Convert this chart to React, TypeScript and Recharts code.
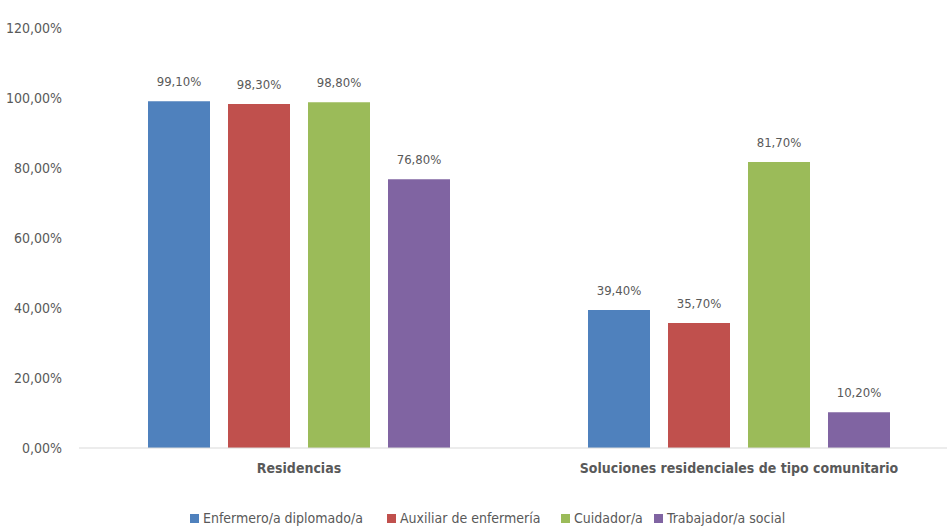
import React from 'react';
import { BarChart, Bar, XAxis, YAxis, LabelList, Legend } from 'recharts';

const categories = ['Residencias', 'Soluciones residenciales de tipo comunitario'];
const seriesNames = ['Enfermero/a diplomado/a', 'Auxiliar de enfermería', 'Cuidador/a', 'Trabajador/a social'];
const enfermero = [99.1, 39.4];
const auxiliar = [98.3, 35.7];
const cuidador = [98.8, 81.7];
const trabajador = [76.8, 10.2];
const yTicks = [0, 20, 40, 60, 80, 100, 120];
const colors = ['#4F81BD', '#C0504D', '#9BBB59', '#8064A2'];
const seriesValues = [enfermero, auxiliar, cuidador, trabajador];
const legendItemWidths = [197, 174, 93, 160];

const data = categories.map((c, i) => {
  const row: any = { name: c };
  seriesNames.forEach((s, j) => { row['s' + j] = seriesValues[j][i]; });
  return row;
});

const FONT = '"DejaVu Sans Condensed", "Liberation Sans Narrow", sans-serif';
const fmt = (v: number) => v.toFixed(2).replace('.', ',') + '%';

const LegendContent = () => (
  <div style={{ display: 'flex', fontFamily: FONT, fontSize: 14, color: '#595959', lineHeight: '16px', height: 16 }}>
    {seriesNames.map((s, i) => (
      <div key={s} style={{ display: 'flex', alignItems: 'center', width: legendItemWidths[i], whiteSpace: 'nowrap' }}>
        <span style={{ width: 9, height: 9, background: colors[i], display: 'inline-block', marginRight: 4 }} />
        <span>{s}</span>
      </div>
    ))}
  </div>
);

export default function App() {
  return (
    <div style={{ position: 'fixed', left: 0, top: 0, width: 947, height: 527, overflow: 'hidden', background: '#fff' }}>
      <BarChart
        width={960}
        height={527}
        data={data}
        margin={{ top: 28, right: 1, bottom: 33, left: 0 }}
        barCategoryGap={69}
        barGap={18}
      >
        <XAxis
          dataKey="name"
          height={30}
          axisLine={{ stroke: '#D9D9D9' }}
          tickLine={false}
          tickSize={0}
          tickMargin={15}
          tick={{ fill: '#595959', fontFamily: FONT, fontSize: 14, fontWeight: 'bold' }}
        />
        <YAxis
          width={79}
          domain={[0, 120]}
          ticks={yTicks}
          axisLine={false}
          tickLine={false}
          tickSize={0}
          tickMargin={17}
          tickFormatter={fmt}
          tick={{ fill: '#595959', fontFamily: FONT, fontSize: 14 }}
        />
        <Legend
          content={<LegendContent />}
          wrapperStyle={{ position: 'absolute', left: 190, top: 510, width: 'auto' }}
        />
        {seriesNames.map((s, i) => (
          <Bar key={s} dataKey={'s' + i} name={s} fill={colors[i]} isAnimationActive={false}>
            <LabelList
              dataKey={'s' + i}
              position="top"
              offset={15}
              formatter={(v: any) => fmt(Number(v))}
              style={{ fill: '#595959', fontFamily: FONT, fontSize: 13 }}
            />
          </Bar>
        ))}
      </BarChart>
    </div>
  );
}
